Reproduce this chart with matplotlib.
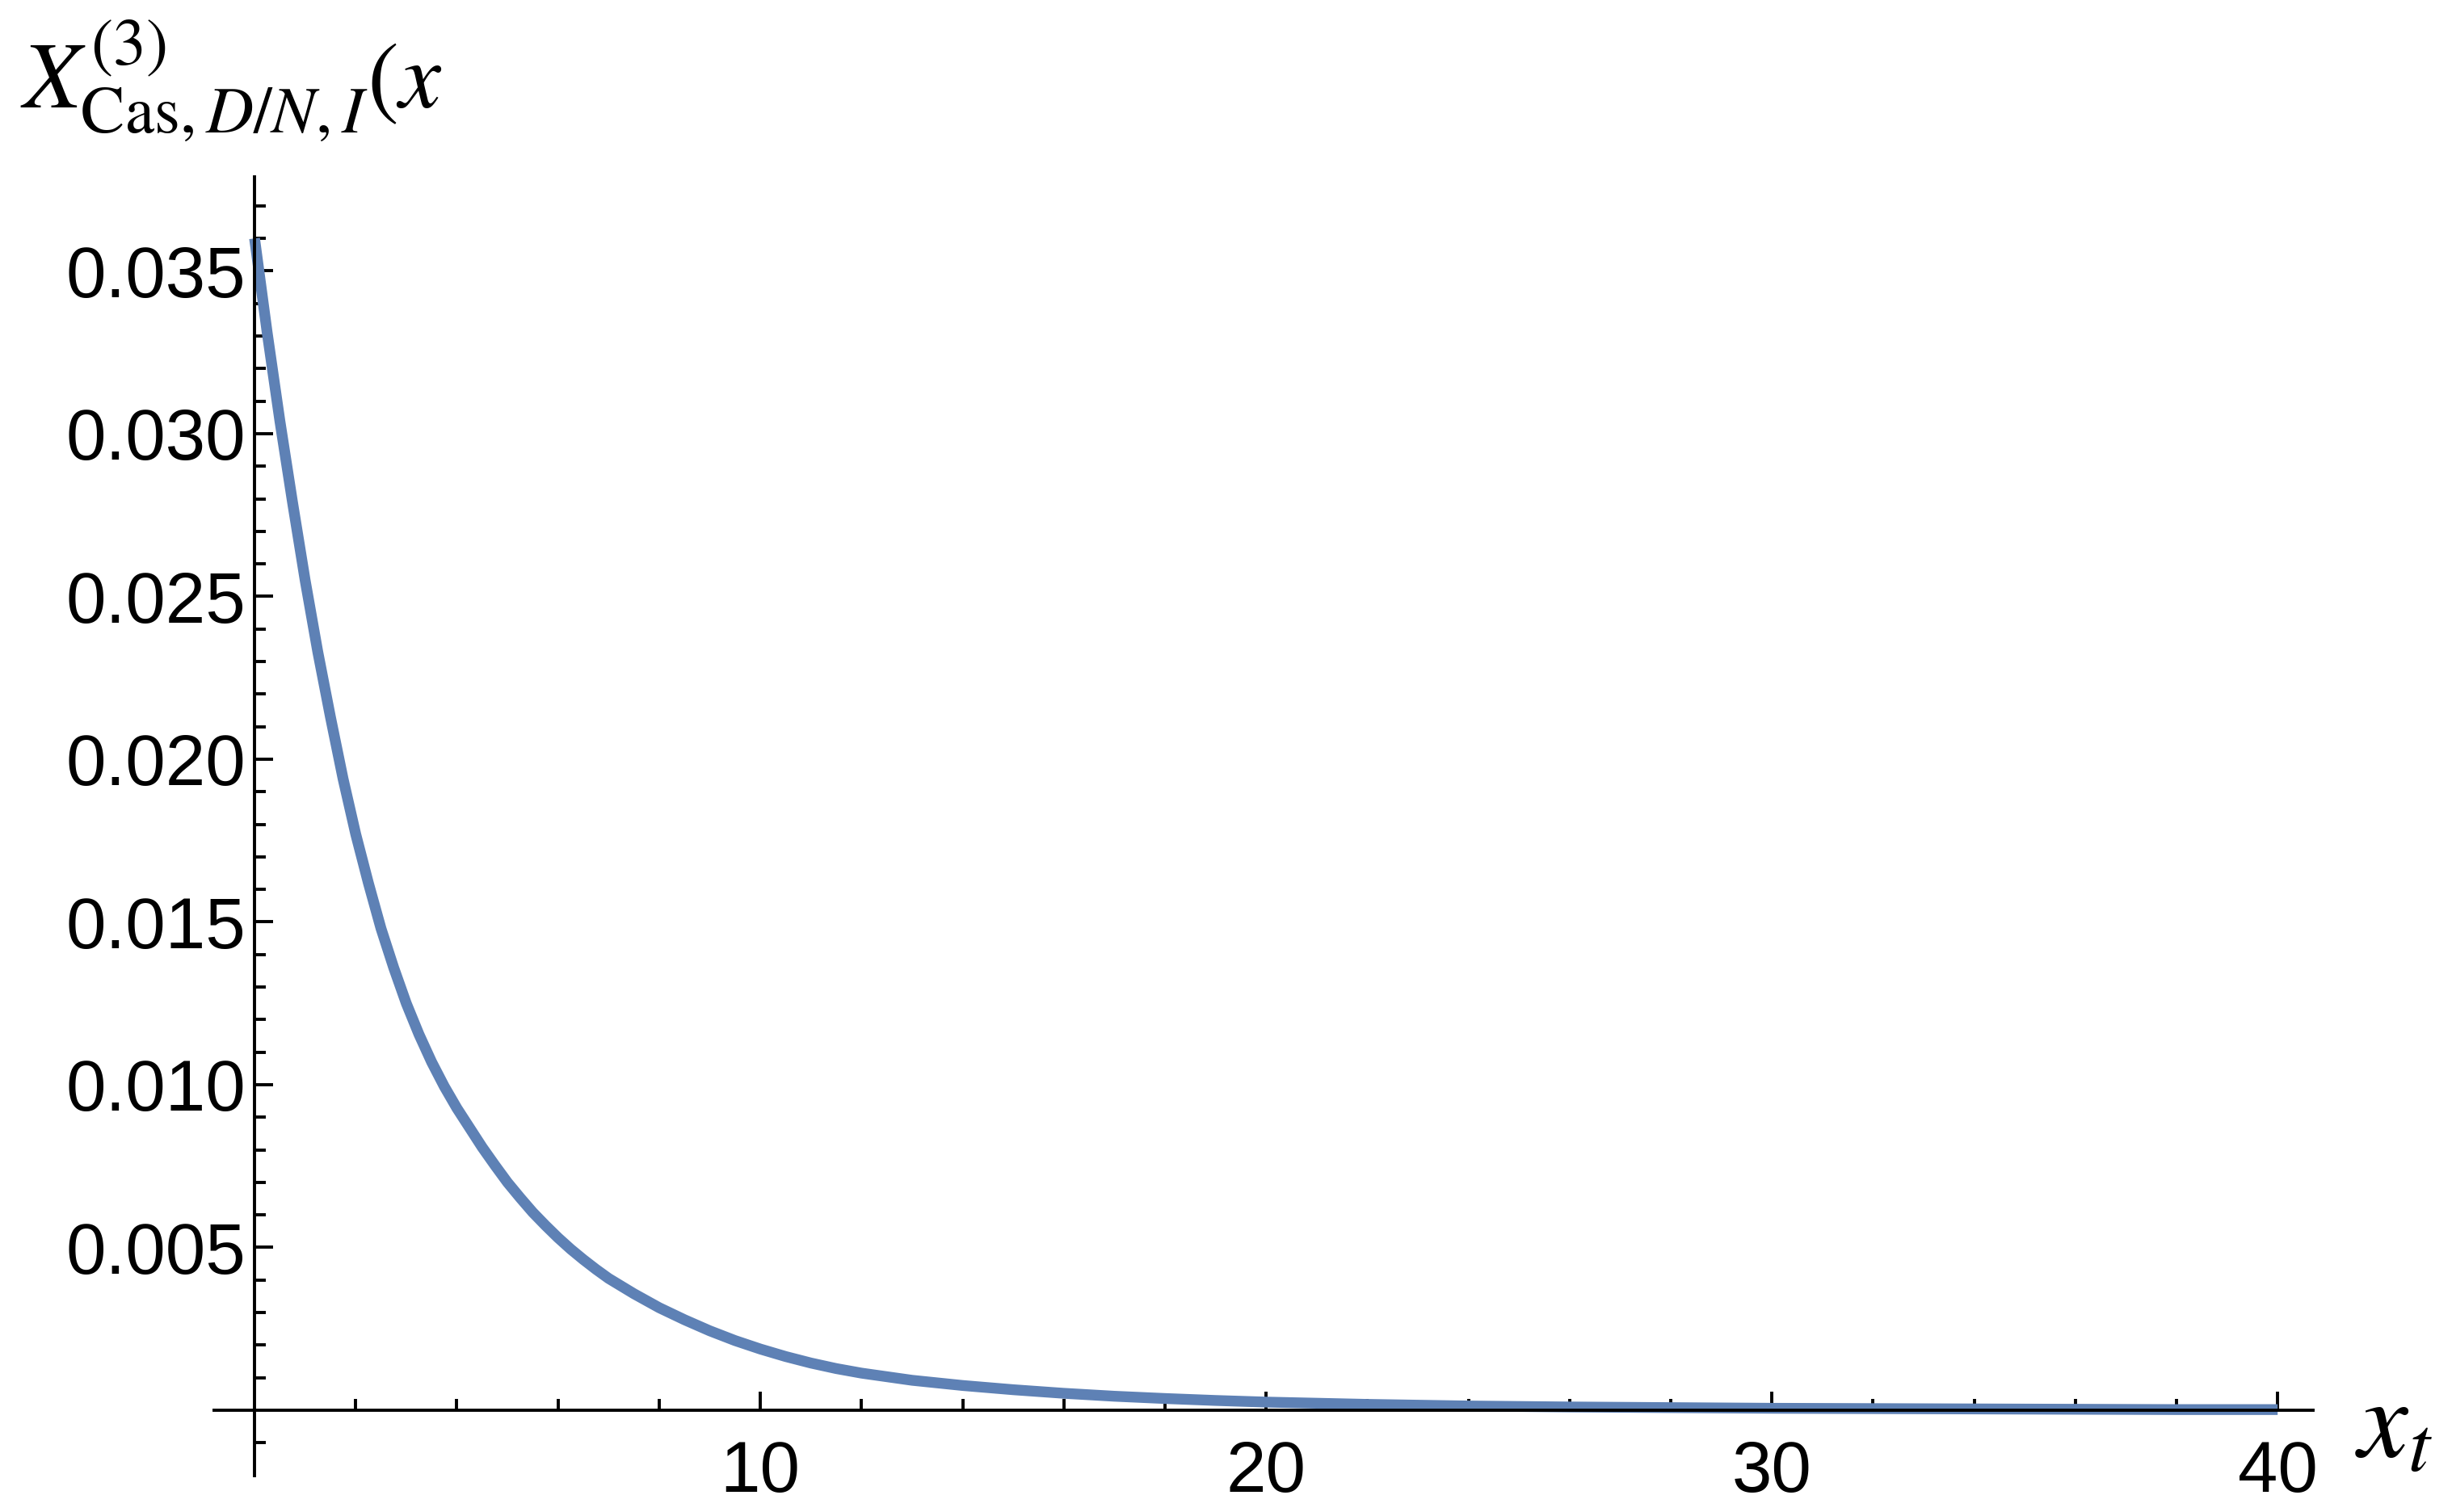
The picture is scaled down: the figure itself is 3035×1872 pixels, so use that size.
import matplotlib

matplotlib.use("Agg")

import matplotlib.pyplot as plt

plt.rcParams["font.family"] = ["Liberation Sans", "DejaVu Sans"]
plt.rcParams["mathtext.fontset"] = "stix"

# values
x_t = [0, 0.25, 0.5, 0.75, 1.0, 1.25, 1.5, 1.75, 2.0, 2.25, 2.5, 2.75, 3.0,
       3.25, 3.5, 3.75, 4.0, 4.25, 4.5, 4.75, 5.0, 5.25, 5.5, 5.75, 6.0,
       6.25, 6.5, 6.75, 7.0, 7.5, 8.0, 8.5, 9.0, 9.5, 10, 10.5, 11, 11.5,
       12, 13, 14, 15, 16, 17, 18, 19, 20, 22, 24, 26, 28, 30, 32, 34, 36,
       38, 40]
x_cas = [0.0360, 0.0331, 0.0304, 0.0279, 0.0255, 0.0233, 0.0213, 0.0194,
         0.0177, 0.0162, 0.0148, 0.0136, 0.0125, 0.01155, 0.01070, 0.00995,
         0.00928, 0.00868, 0.00808, 0.00753, 0.00700, 0.00653, 0.00608,
         0.00568, 0.00530, 0.00495, 0.00463, 0.00433, 0.00405, 0.00358,
         0.00315, 0.00278, 0.00244, 0.00214, 0.00188, 0.00165, 0.00145,
         0.00128, 0.00114, 0.00092, 0.00076, 0.00063, 0.00052, 0.00043,
         0.00036, 0.00030, 0.00025, 0.00018, 0.00013, 0.00010, 0.00008,
         0.00006, 0.00005, 0.00004, 0.00003, 0.00002, 0.00002]

x_major = [10, 20, 30, 40]
x_minor = [v for v in range(2, 40, 2) if v % 10 != 0]
y_major = [0.005, 0.010, 0.015, 0.020, 0.025, 0.030, 0.035]
y_labels = ["0.005", "0.010", "0.015", "0.020", "0.025", "0.030", "0.035"]
y_minor = [k / 1000 for k in range(-1, 38) if k % 5 != 0]

W, H, DPI = 3035, 1872, 200
fig = plt.figure(figsize=(W / DPI, H / DPI), dpi=DPI)
ax = fig.add_axes([265 / W, 1 - 1826.6 / H, 2598 / W, 1608 / H])

ax.plot(x_t, x_cas, color="#5E81B5", lw=4.8, solid_capstyle="butt",
        solid_joinstyle="round")

ax.set_xlim(-0.8, 40.7)
ax.set_ylim(-0.002, 0.0379)

for side in ("top", "right"):
    ax.spines[side].set_visible(False)
for side in ("left", "bottom"):
    ax.spines[side].set_position(("data", 0))
    ax.spines[side].set_linewidth(1.4)

ax.set_xticks(x_major)
ax.set_xticks(x_minor, minor=True)
ax.set_xticklabels([str(v) for v in x_major])
ax.set_yticks(y_major)
ax.set_yticks(y_minor, minor=True)
ax.set_yticklabels(y_labels)

ax.tick_params(which="both", direction="in", width=1.4, labelsize=32)
ax.tick_params(which="major", length=8.3)
ax.tick_params(which="minor", length=5)
ax.tick_params(axis="x", pad=13)
ax.tick_params(axis="y", pad=4)

fig.text(25 / W, 1 - 133 / H, r"$X^{(3)}_{\mathrm{Cas},D/N,I}(x$",
         fontsize=42, ha="left", va="baseline")
fig.text(2915 / W, 1 - 1803 / H, r"$x_t$", fontsize=50,
         ha="left", va="baseline")

fig.savefig("out.png", dpi=DPI, facecolor="white")
